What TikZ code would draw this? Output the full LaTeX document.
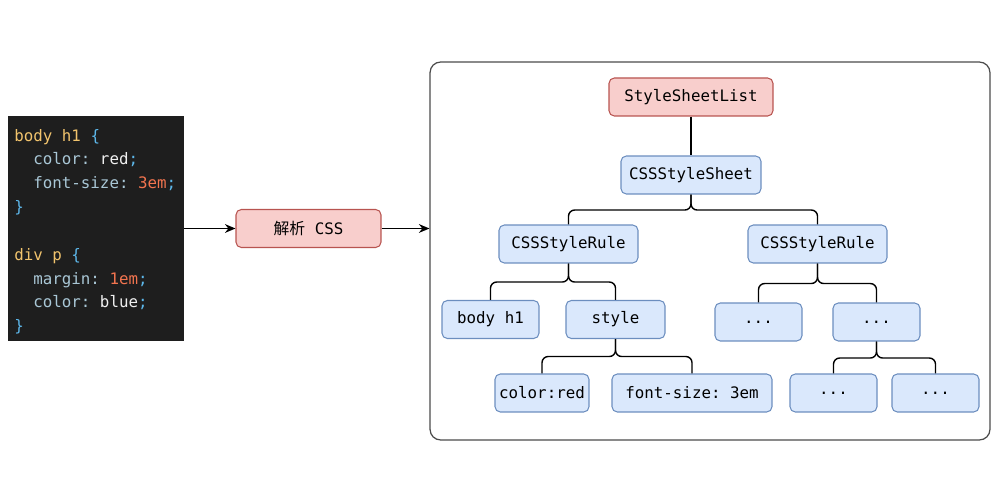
\documentclass[tikz,border=0pt]{standalone}
\usepackage{fontspec}
\setmonofont{DejaVu Sans Mono}
\newfontfamily\cjk{Noto Sans CJK SC}
\usepackage{tikz}
\usetikzlibrary{arrows.meta,positioning}

\definecolor{blueFill}{HTML}{DAE8FC}
\definecolor{blueLine}{HTML}{6C8EBF}
\definecolor{redFill}{HTML}{F8CECC}
\definecolor{redLine}{HTML}{B85450}
\definecolor{codeBg}{HTML}{1E1E1E}
\definecolor{cssSel}{HTML}{F2C46D}
\definecolor{cssBrace}{HTML}{5DB7EA}
\definecolor{cssProp}{HTML}{A9C7D6}
\definecolor{cssVal}{HTML}{F0F0F0}
\definecolor{cssNum}{HTML}{F2744F}

\begin{document}
\begin{tikzpicture}[x=0.02cm, y=-0.02cm]
			\tikzstyle{Box}		= [rectangle, rounded corners=3pt, minimum height=0.76cm, inner sep=0pt, font=\ttfamily\fontsize{9}{11}\selectfont, line width=0.6pt]
			\tikzstyle{Blue}	= [Box, fill=blueFill, draw=blueLine]
			\tikzstyle{Red}		= [Box, fill=redFill, draw=redLine]
			\tikzstyle{Code}	= [anchor=west, inner sep=0pt, font=\ttfamily\fontsize{9}{11}\selectfont]
			\tikzstyle{Tree}	= [line width=0.8pt, rounded corners=3.5pt]
			\tikzstyle{Flow}	= [line width=0.7pt, -{Stealth[length=6pt, width=5pt]}]

			\useasboundingbox (0,0) rectangle (1001,489);

			% source css
			\node (code) at (96,228.5) [fill=codeBg, minimum width=3.52cm, minimum height=4.5cm, inner sep=0pt] {};
			\node (c1) at (14,137) [Code] {\textcolor{cssSel}{body h1} \textcolor{cssBrace}{\{}};
			\node (c2) at (33,160) [Code] {\textcolor{cssProp}{color:} \textcolor{cssVal}{red}\textcolor{cssBrace}{;}};
			\node (c3) at (33,184) [Code] {\textcolor{cssProp}{font-size:} \textcolor{cssNum}{3em}\textcolor{cssBrace}{;}};
			\node (c4) at (14,208) [Code] {\textcolor{cssBrace}{\}}};
			\node (c5) at (14,256) [Code] {\textcolor{cssSel}{div p} \textcolor{cssBrace}{\{}};
			\node (c6) at (33,280) [Code] {\textcolor{cssProp}{margin:} \textcolor{cssNum}{1em}\textcolor{cssBrace}{;}};
			\node (c7) at (33,303) [Code] {\textcolor{cssProp}{color:} \textcolor{cssVal}{blue}\textcolor{cssBrace}{;}};
			\node (c8) at (14,327) [Code] {\textcolor{cssBrace}{\}}};

			% parser
			\node (parse) at (308.5,228.5) [Red, minimum width=2.9cm] {{\cjk 解析} CSS};

			% cssom
			\node (cssom) at (710,251) [draw=black!70, line width=0.7pt, rounded corners=6pt, minimum width=11.2cm, minimum height=7.56cm] {};
			\node (list) at (691,97) [Red, minimum width=3.28cm] {StyleSheetList};
			\node (sheet) at (691,175) [Blue, minimum width=2.8cm] {CSSStyleSheet};
			\node (ruleA) at (568.5,244) [Blue, minimum width=2.78cm] {CSSStyleRule};
			\node (ruleB) at (817.5,244) [Blue, minimum width=2.78cm] {CSSStyleRule};
			\node (sel) at (490.5,319.5) [Blue, minimum width=1.94cm] {body h1};
			\node (style) at (615.5,319.5) [Blue, minimum width=1.98cm] {style};
			\node (d1) at (758.5,322) [Blue, minimum width=1.74cm] {...};
			\node (d2) at (876.5,322) [Blue, minimum width=1.74cm] {...};
			\node (decl1) at (542,393) [Blue, minimum width=1.88cm] {color:red};
			\node (decl2) at (692,393) [Blue, minimum width=3.2cm] {font-size: 3em};
			\node (d3) at (833.5,393) [Blue, minimum width=1.74cm] {...};
			\node (d4) at (935.5,393) [Blue, minimum width=1.74cm] {...};

			\draw [Flow] (code.east) to (parse.west);
			\draw [Flow] (parse.east) to (parse.east -| cssom.west);

			\draw [Tree] (list) to (sheet);
			\draw [Tree] (sheet.south) -- ++(0,15.5) -| (ruleA.north);
			\draw [Tree] (sheet.south) -- ++(0,15.5) -| (ruleB.north);
			\draw [Tree] (ruleA.south) -- ++(0,18.5) -| (sel.north);
			\draw [Tree] (ruleA.south) -- ++(0,18.5) -| (style.north);
			\draw [Tree] (ruleB.south) -- ++(0,20) -| (d1.north);
			\draw [Tree] (ruleB.south) -- ++(0,20) -| (d2.north);
			\draw [Tree] (style.south) -- ++(0,17.5) -| (decl1.north);
			\draw [Tree] (style.south) -- ++(0,17.5) -| (decl2.north);
			\draw [Tree] (d2.south) -- ++(0,16.5) -| (d3.north);
			\draw [Tree] (d2.south) -- ++(0,16.5) -| (d4.north);
		\end{tikzpicture}
\end{document}
